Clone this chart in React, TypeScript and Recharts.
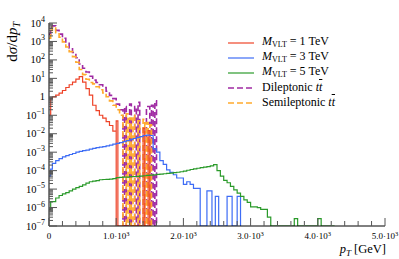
import React from 'react';
import { ComposedChart, Line, XAxis, YAxis, Legend, Label } from 'recharts';

const FONT = '"Liberation Serif", "DejaVu Serif", serif';
const FLOOR = 1e-7;

// bin lower edges in GeV: 0, 25, 50, 100, ... 5000
const pTEdges = [0, 25, ...Array.from({ length: 100 }, (_, i) => 50 + 50 * i)];

const xTicks = Array.from({ length: 26 }, (_, i) => i * 200);
const yTicks: number[] = [];
for (let e = -7; e <= 3; e++) for (let m = 1; m <= 9; m++) yTicks.push(Number((m * Math.pow(10, e)).toPrecision(3)));
yTicks.push(1e4);

// M_VLT = 1 TeV
const red = [
  0.1, 0.8, 1.0, 1.25, 1.6, 2.2, 3.2, 4.5, 6.3, 9, 12.5, 6.3, 2.8, 1.25, 0.35, 0.18, 0.1, 0.07, 0.045, 0.028, 0.014,
];
// isolated low-statistics bins: [from GeV, to GeV, value]
const redSpikes = [
  [1000, 1025, 0.05],
  [1400, 1425, 0.02],
  [1475, 1500, 0.015],
];
// M_VLT = 3 TeV
const blue = [
  5e-5, 1.2e-4, 2.5e-4, 3.5e-4, 4.5e-4, 5.5e-4, 6.5e-4, 7.5e-4, 8.5e-4, 1.0e-3, 1.1e-3, 1.2e-3, 1.3e-3, 1.45e-3,
  1.6e-3, 1.75e-3, 1.9e-3, 2.0e-3, 2.2e-3, 2.4e-3, 2.7e-3, 3.0e-3, 3.3e-3, 3.7e-3, 4.2e-3, 4.8e-3, 5.5e-3, 6.2e-3,
  7.0e-3, 8.0e-3, 8.5e-3, 8.0e-3, 1.5e-3, 1.0e-3, 3.5e-4, 2.2e-4, 1.1e-4, 8e-5, 6e-5, 4e-5, 4e-5, 1.8e-5, 2.5e-5,
  1.8e-5, 1.1e-5, 1.1e-5,
];
const blueSpikes = [
  [2350, 2425, 8e-6],
  [2475, 2525, 4e-6],
  [2650, 2725, 4e-6],
  [2800, 2850, 4e-6],
];
// M_VLT = 5 TeV
const green = [
  8e-7, 2.1e-6, 2.1e-6, 3.3e-6, 4.5e-6, 5.5e-6, 6.5e-6, 8e-6, 1.0e-5, 1.2e-5, 1.4e-5, 1.7e-5, 2.1e-5, 2.5e-5, 2.7e-5,
  2.9e-5, 3.2e-5, 3.3e-5, 3.4e-5, 3.5e-5, 3.7e-5, 4.2e-5, 4.3e-5, 4.4e-5, 4.5e-5, 4.7e-5, 4.8e-5, 4.9e-5, 5.1e-5,
  5.3e-5, 5.5e-5, 5.7e-5, 5.9e-5, 6.2e-5, 6.5e-5, 6.8e-5, 7.1e-5, 7.4e-5, 7.8e-5, 8.2e-5, 8.7e-5, 9.5e-5, 1.05e-4,
  1.15e-4, 1.25e-4, 1.35e-4, 1.45e-4, 1.55e-4, 1.65e-4, 1.8e-4, 2.1e-4, 1.0e-4, 5e-5, 3e-5, 2.2e-5, 1.4e-5, 9e-6,
  6e-6, 4e-6, 2.6e-6, 1.9e-6, 1.1e-6, 1.1e-6, 1.0e-6, 8e-7, 8e-7, 3e-7,
];
const greenSpikes = [
  [3650, 3700, 2.5e-7],
  [4000, 4050, 2.5e-7],
  [4250, 4250, 0],
];
// Dileptonic ttbar
const dilep = [
  2500, 6000, 7000, 4000, 2500, 1500, 800, 450, 250, 130, 60, 35, 22, 13, 8, 6, 4.5, 3.2, 2, 1.2, 0.8, 0.4, 0.2,
];
const dilepSpikes = [
  [1125, 1150, 0.3],
  [1200, 1225, 0.4],
  [1275, 1300, 0.3],
  [1325, 1350, 0.5],
  [1450, 1500, 0.3],
  [1525, 1550, 0.35],
  [1575, 1600, 0.6],
];
// Semileptonic ttbar
const semilep = [
  1500, 4000, 6000, 3000, 1700, 950, 500, 280, 150, 75, 30, 16, 9, 6, 5, 3.5, 2.4, 1.6, 1.0, 0.6, 0.35, 0.2, 0.1,
];
const semilepSpikes = [
  [1150, 1175, 0.12],
  [1200, 1225, 0.07],
  [1250, 1275, 0.1],
  [1325, 1350, 0.05],
  [1400, 1425, 0.06],
  [1450, 1475, 0.04],
  [1500, 1525, 0.03],
];

const toSteps = (vals: number[], spikes: number[][], key: string) => {
  const pts: any[] = vals.map((v, i) => ({ x: pTEdges[i], [key]: Math.max(v, FLOOR) }));
  pts.push({ x: pTEdges[vals.length], [key]: FLOOR });
  spikes.forEach(([a, b, v]) => {
    pts.push({ x: a, [key]: Math.max(v, FLOOR) });
    pts.push({ x: b, [key]: FLOOR });
  });
  return pts;
};

const series = [
  { key: 'dilep', name: 'Dileptonic tt', vals: dilep, spikes: dilepSpikes, color: '#a02aa3', dash: '6 3', width: 1.6 },
  { key: 'semilep', name: 'Semileptonic tt', vals: semilep, spikes: semilepSpikes, color: '#ffaa2e', dash: '6 3', width: 1.6 },
  { key: 'red', name: 'M1', vals: red, spikes: redSpikes, color: '#ee4328', dash: undefined, width: 1.2 },
  { key: 'blue', name: 'M3', vals: blue, spikes: blueSpikes, color: '#3d6cf5', dash: undefined, width: 1.2 },
  { key: 'green', name: 'M5', vals: green, spikes: greenSpikes, color: '#2a9a2a', dash: undefined, width: 1.2 },
];
const legendOrder = ['M1', 'M3', 'M5', 'Dileptonic tt', 'Semileptonic tt'];

const ttbar = (
  <i>
    t<span style={{ textDecoration: 'overline' }}>t</span>
  </i>
);
const mLabel = (n: number) => (
  <span>
    <i>M</i>
    <sub style={{ fontSize: 8, verticalAlign: -2 }}>VLT</sub> = {n} TeV
  </span>
);
const legendLabels: Record<string, React.ReactNode> = {
  M1: mLabel(1),
  M3: mLabel(3),
  M5: mLabel(5),
  'Dileptonic tt': <span>Dileptonic {ttbar}</span>,
  'Semileptonic tt': <span>Semileptonic {ttbar}</span>,
};

const LegendContent = (props: any) => {
  const payload: any[] = props.payload || [];
  const items = legendOrder.map((n) => payload.find((p) => p.value === n)).filter(Boolean);
  return (
    <div style={{ fontFamily: FONT, fontSize: 12, color: '#000' }}>
      {items.map((it: any) => (
        <div key={it.value} style={{ display: 'flex', alignItems: 'center', height: 15 }}>
          <svg width={26} height={4} style={{ marginRight: 8, display: 'block' }}>
            <line
              x1={0}
              x2={26}
              y1={2}
              y2={2}
              stroke={it.color}
              strokeWidth={it.payload?.strokeDasharray ? 1.6 : 1.2}
              strokeDasharray={it.payload?.strokeDasharray}
            />
          </svg>
          <span style={{ whiteSpace: 'nowrap', lineHeight: '15px' }}>{legendLabels[it.value]}</span>
        </div>
      ))}
    </div>
  );
};

const TICK = '#555';
const isMajorX = (v: number) => v % 1000 === 0;
const isMajorY = (v: number) => Math.abs(Math.log10(v) - Math.round(Math.log10(v))) < 1e-6;

const BottomTick = (props: any) => {
  const { x, y, payload } = props;
  const v = payload.value;
  const major = isMajorX(v);
  return (
    <g>
      <line x1={x} x2={x} y1={y} y2={y - (major ? 8 : 5)} stroke={TICK} strokeWidth={1} />
      {major && (
        <text x={x} y={y + 13} textAnchor="middle" fontSize={9} fontFamily={FONT} fill="#000">
          {v === 0 ? (
            '0'
          ) : (
            <>
              {(v / 1000).toFixed(1)}·10
              <tspan dy={-3.5} fontSize={6.5}>
                3
              </tspan>
            </>
          )}
        </text>
      )}
    </g>
  );
};
const TopTick = (props: any) => {
  const { x, y, payload } = props;
  const major = isMajorX(payload.value);
  return <line x1={x} x2={x} y1={y} y2={y + (major ? 8 : 5)} stroke={TICK} strokeWidth={1} />;
};
const LeftTick = (props: any) => {
  const { x, y, payload } = props;
  const v = payload.value;
  const major = isMajorY(v);
  const e = Math.round(Math.log10(v));
  return (
    <g>
      <line x1={x} x2={x + (major ? 8 : 4)} y1={y} y2={y} stroke={TICK} strokeWidth={1} />
      {major && (
        <text x={x - 4} y={y + 3.5} textAnchor="end" fontSize={10.5} fontFamily={FONT} fill="#000">
          {e === 0 ? (
            '1'
          ) : (
            <>
              10
              <tspan dy={-4.5} fontSize={8}>
                {e < 0 ? '\u2212' + Math.abs(e) : String(e)}
              </tspan>
            </>
          )}
        </text>
      )}
    </g>
  );
};
const RightTick = (props: any) => {
  const { x, y, payload } = props;
  const major = isMajorY(payload.value);
  return <line x1={x} x2={x - (major ? 8 : 4)} y1={y} y2={y} stroke={TICK} strokeWidth={1} />;
};

const YLabel = (props: any) => {
  const vb = props.viewBox || { x: 0, y: 23 };
  const x = vb.x + 17;
  const y = vb.y - 1;
  return (
    <text x={x} y={y} transform={`rotate(-90, ${x}, ${y})`} textAnchor="end" fontSize={15} fontFamily={FONT} fill="#000">
      d<tspan fontStyle="italic">σ</tspan>/d<tspan fontStyle="italic">p</tspan>
      <tspan fontSize={10} dy={3} fontStyle="italic">
        T
      </tspan>
    </text>
  );
};
const XLabel = (props: any) => {
  const vb = props.viewBox || { x: 49, y: 226, width: 336 };
  const x = vb.x + vb.width + 1;
  const y = vb.y + 27;
  return (
    <text x={x} y={y} textAnchor="end" fontSize={12.5} fontFamily={FONT} fill="#000">
      <tspan fontStyle="italic">p</tspan>
      <tspan fontSize={9} dy={2.5} fontStyle="italic">
        T
      </tspan>
      <tspan dy={-2.5}> [GeV]</tspan>
    </text>
  );
};

export default function App() {
  return (
    <div style={{ position: 'absolute', left: 0, top: 0 }}>
      <ComposedChart width={399} height={259} margin={{ top: 23, right: 14, bottom: 0, left: 0 }}>
        <XAxis
          xAxisId="b"
          dataKey="x"
          type="number"
          domain={[0, 5000]}
          ticks={xTicks}
          interval={0}
          orientation="bottom"
          height={33}
          tickSize={0}
          tickMargin={0}
          tickLine={false}
          tick={<BottomTick />}
          axisLine={{ stroke: '#000', strokeWidth: 1 }}
          allowDataOverflow
        >
          <Label content={<XLabel />} />
        </XAxis>
        <XAxis
          xAxisId="t"
          dataKey="x"
          type="number"
          domain={[0, 5000]}
          ticks={xTicks}
          interval={0}
          orientation="top"
          height={0}
          tickSize={0}
          tickMargin={0}
          tickLine={false}
          tick={<TopTick />}
          axisLine={{ stroke: '#000', strokeWidth: 1 }}
          allowDataOverflow
        />
        <YAxis
          yAxisId="l"
          type="number"
          scale="log"
          domain={[1e-7, 1e4]}
          ticks={yTicks}
          interval={0}
          width={49}
          tickSize={0}
          tickMargin={0}
          tickLine={false}
          tick={<LeftTick />}
          axisLine={{ stroke: '#000', strokeWidth: 1 }}
          allowDataOverflow
        >
          <Label content={<YLabel />} />
        </YAxis>
        <YAxis
          yAxisId="r"
          orientation="right"
          type="number"
          scale="log"
          domain={[1e-7, 1e4]}
          ticks={yTicks}
          interval={0}
          width={0}
          tickSize={0}
          tickMargin={0}
          tickLine={false}
          tick={<RightTick />}
          axisLine={{ stroke: '#000', strokeWidth: 1 }}
          allowDataOverflow
        />
        {series.map((s) => (
          <Line
            key={s.key}
            xAxisId="b"
            yAxisId="l"
            data={toSteps(s.vals, s.spikes, s.key)}
            dataKey={s.key}
            name={s.name}
            type="stepAfter"
            stroke={s.color}
            strokeWidth={s.width}
            strokeDasharray={s.dash}
            dot={false}
            activeDot={false}
            isAnimationActive={false}
          />
        ))}
        <Legend
          layout="vertical"
          align="center"
          verticalAlign="middle"
          content={<LegendContent />}
          wrapperStyle={{ position: 'absolute', top: 35, left: 228, width: 165, height: 80 }}
        />
      </ComposedChart>
    </div>
  );
}
